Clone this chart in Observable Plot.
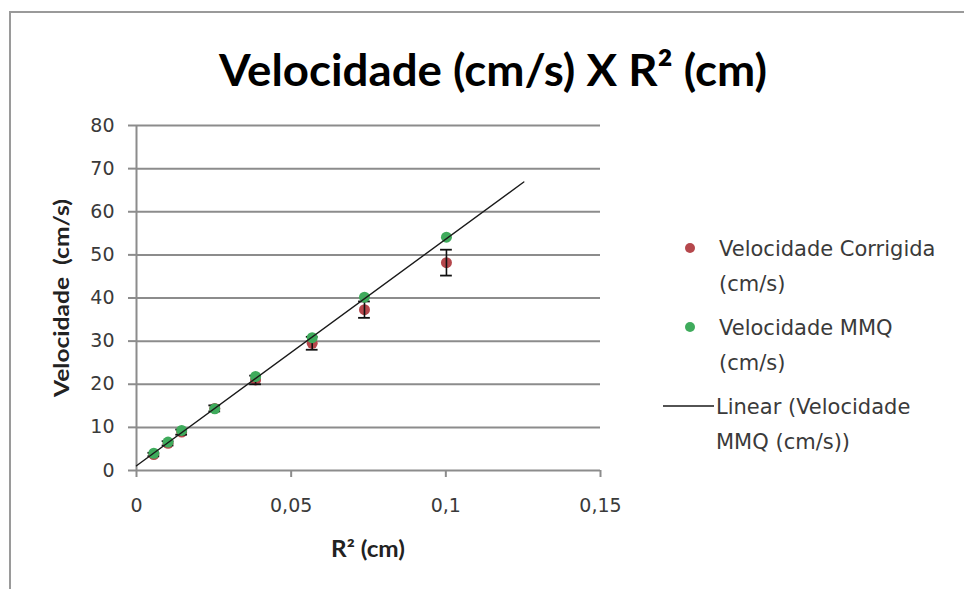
<!DOCTYPE html>
<html>
<head>
<meta charset="utf-8">
<script src="https://cdn.jsdelivr.net/npm/d3@7"></script>
<script src="https://cdn.jsdelivr.net/npm/@observablehq/plot@0.6"></script>
<style>
  html, body { margin: 0; padding: 0; background: #fff; }
  #chart { width: 964px; height: 589px; position: relative; overflow: hidden; }
</style>
</head>
<body>
<div id="chart"></div>
<script>
// ---- data ----
const r2 = [0.0056, 0.0102, 0.0146, 0.0253, 0.0385, 0.0568, 0.0737, 0.1002];
const velMMQ = [4.0, 6.6, 9.3, 14.3, 21.8, 30.8, 40.2, 54.1];
const velCorrigida = [3.7, 6.3, 8.9, 14.4, 21.0, 29.5, 37.3, 48.2];
const erroCorrigida = [0.4, 0.5, 0.6, 0.7, 1.0, 1.5, 1.9, 3.0];
const trendX = [0, 0.1252];
const trendY = [1.1, 66.9];
const xTicks = [0, 0.05, 0.1, 0.15];
const yTicks = [0, 10, 20, 30, 40, 50, 60, 70, 80];
const titleText = "Velocidade (cm/s) X R² (cm)";
const xLabel = "R² (cm)";
const yLabel = "Velocidade  (cm/s)";
const legendEntries = [
  {type: "dot", color: "#b5474c", lines: ["Velocidade Corrigida", "(cm/s)"]},
  {type: "dot", color: "#3fab5c", lines: ["Velocidade MMQ", "(cm/s)"]},
  {type: "line", color: "#1a1a1a", lines: ["Linear (Velocidade", "MMQ (cm/s))"]}
];

const corr = r2.map((x, i) => ({x, y: velCorrigida[i], e: erroCorrigida[i]}));
const mmq = r2.map((x, i) => ({x, y: velMMQ[i]}));
const trend = trendX.map((x, i) => ({x, y: trendY[i]}));

const gridColor = "#8c8c8c";
const capHalf = 0.0019;

const chart = Plot.plot({
  width: 964,
  height: 589,
  marginLeft: 136,
  marginRight: 364,
  marginTop: 125,
  marginBottom: 119,
  x: {domain: [0, 0.15]},
  y: {domain: [0, 80]},
  style: {fontFamily: "DejaVu Sans", fontSize: "19px", background: "transparent", overflow: "visible"},
  marks: [
    Plot.gridY(yTicks, {stroke: gridColor, strokeOpacity: 1, strokeWidth: 2}),
    Plot.ruleX([0], {stroke: gridColor, strokeWidth: 2}),
    Plot.axisY(yTicks, {tickSize: 8, tickPadding: 14, label: null, stroke: gridColor, strokeWidth: 2, fill: "#3a3a3a", fontSize: 19}),
    Plot.axisX(xTicks, {tickSize: 7, tickPadding: 21, label: null, stroke: gridColor, strokeWidth: 2, fill: "#3a3a3a", fontSize: 19,
      tickFormat: d => String(d).replace(".", ",")}),
    Plot.dot(corr, {x: "x", y: "y", r: 5.5, fill: legendEntries[0].color}),
    Plot.ruleX(corr, {x: "x", y1: d => d.y - d.e, y2: d => d.y + d.e, stroke: "#111", strokeWidth: 1.6}),
    Plot.ruleY(corr, {y: d => d.y + d.e, x1: d => d.x - capHalf, x2: d => d.x + capHalf, stroke: "#111", strokeWidth: 1.8}),
    Plot.ruleY(corr, {y: d => d.y - d.e, x1: d => d.x - capHalf, x2: d => d.x + capHalf, stroke: "#111", strokeWidth: 1.8}),
    Plot.dot(mmq, {x: "x", y: "y", r: 5.5, fill: legendEntries[1].color}),
    Plot.line(trend, {x: "x", y: "y", stroke: legendEntries[2].color, strokeWidth: 1.4})
  ]
});

document.getElementById("chart").appendChild(chart);

// ---- decorations: border, title, axis titles, legend ----
const svg = d3.select(chart);
const deco = svg.append("g");

// chart area border
deco.append("path")
  .attr("d", "M10,589 L10,12 L964,12")
  .attr("fill", "none").attr("stroke", "#9a9a9a").attr("stroke-width", 2);

deco.append("text")
  .attr("x", 493).attr("y", 86)
  .attr("text-anchor", "middle")
  .attr("font-family", "Lato, 'Open Sans', sans-serif")
  .attr("font-weight", "bold")
  .attr("font-size", 44)
  .attr("fill", "#000")
  .attr("textLength", 548).attr("lengthAdjust", "spacingAndGlyphs")
  .text(titleText);

deco.append("text")
  .attr("x", 368).attr("y", 557)
  .attr("text-anchor", "middle")
  .attr("font-family", "Lato, 'Open Sans', sans-serif")
  .attr("font-weight", "bold")
  .attr("font-size", 22)
  .attr("fill", "#222")
  .attr("textLength", 74).attr("lengthAdjust", "spacingAndGlyphs")
  .text(xLabel);

deco.append("text")
  .attr("transform", "translate(69,298) rotate(-90)")
  .attr("text-anchor", "middle")
  .attr("font-family", "Lato, 'Open Sans', sans-serif")
  .attr("font-weight", "bold")
  .attr("font-size", 20)
  .attr("fill", "#222")
  .attr("textLength", 198).attr("lengthAdjust", "spacingAndGlyphs")
  .text(yLabel);

// legend
const legendTop = [256, 335, 414];
const lineH = 35;
legendEntries.forEach((entry, i) => {
  const g = deco.append("g");
  const baseY = legendTop[i];
  if (entry.type === "dot") {
    g.append("circle").attr("cx", 690).attr("cy", baseY - 8).attr("r", 5).attr("fill", entry.color);
  } else {
    g.append("line").attr("x1", 663).attr("x2", 714).attr("y1", baseY - 8).attr("y2", baseY - 8)
      .attr("stroke", entry.color).attr("stroke-width", 1.6);
  }
  const tx = entry.type === "dot" ? 719 : 716;
  entry.lines.forEach((ln, j) => {
    g.append("text")
      .attr("x", tx).attr("y", baseY + j * lineH)
      .attr("text-anchor", "start")
      .attr("font-family", "'DejaVu Sans', Verdana, sans-serif")
      .attr("font-size", 21)
      .attr("fill", "#3a3a3a")
      .text(ln);
  });
});
</script>
</body>
</html>
